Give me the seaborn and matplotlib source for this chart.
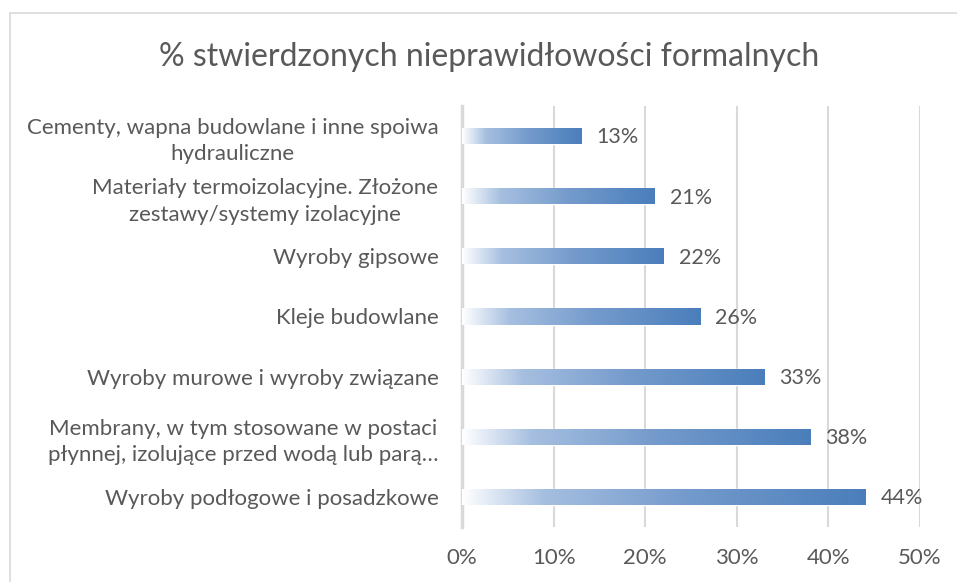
import numpy as np
import pandas as pd
import matplotlib
matplotlib.use("Agg")
import matplotlib.pyplot as plt
import seaborn as sns
from matplotlib.colors import LinearSegmentedColormap
from matplotlib.lines import Line2D

categories = [
    "Cementy, wapna budowlane i inne spoiwa\nhydrauliczne",
    "Materiały termoizolacyjne. Złożone\nzestawy/systemy izolacyjne",
    "Wyroby gipsowe",
    "Kleje budowlane",
    "Wyroby murowe i wyroby związane",
    "Membrany, w tym stosowane w postaci\npłynnej, izolujące przed wodą lub parą…",
    "Wyroby podłogowe i posadzkowe",
]
values = [13, 21, 22, 26, 33, 38, 44]
x_ticks = [0, 10, 20, 30, 40, 50]
x_ticklabels = ["0%", "10%", "20%", "30%", "40%", "50%"]

data = pd.DataFrame({"kategoria": categories, "procent": values})

sns.set_style("white")
plt.rcParams["font.family"] = ["Lato", "DejaVu Sans"]
text_col = "#595959"
grid_col = "#d9d9d9"

fig = plt.figure(figsize=(9.57, 5.82), dpi=100)
ax = fig.add_axes([462 / 957, 1 - 527 / 582, 458 / 957, 421 / 582])

sns.barplot(data=data, x="procent", y="kategoria", orient="h", width=0.27,
            color="#4a7ebb", ax=ax)

# gradient fill - white on the left to blue on the right, per bar
cmap = LinearSegmentedColormap.from_list(
    "grad", [(0, "#ffffff"), (0.2, "#a6bfe0"), (0.55, "#759bcc"), (1, "#4a7ebb")])
grad = np.linspace(0, 1, 256).reshape(1, -1)
for patch in ax.patches:
    x0, y0 = patch.get_x(), patch.get_y()
    w, h = patch.get_width(), patch.get_height()
    patch.set_facecolor("none")
    im = ax.imshow(grad, cmap=cmap, aspect="auto", extent=[x0, x0 + w, y0 + h, y0],
                   zorder=3)
    im.set_clip_path(patch)
    ax.annotate(f"{int(round(w))}%", (x0 + w, y0 + h / 2), xytext=(11, -1),
                textcoords="offset points", va="center", ha="left",
                fontsize=15.5, color=text_col)

ax.set_xlim(0, 50)
ax.set_ylim(6.5, -0.5)
ax.set_xticks(x_ticks)
ax.set_xticklabels(x_ticklabels)
ax.xaxis.grid(True, color=grid_col, lw=1.5)
ax.set_axisbelow(True)
for s in ["top", "right", "bottom"]:
    ax.spines[s].set_visible(False)
ax.spines["left"].set_color(grid_col)
ax.spines["left"].set_linewidth(2.5)
ax.tick_params(axis="x", length=0, pad=15, labelsize=16, labelcolor=text_col)
ax.tick_params(axis="y", length=0, pad=17, labelsize=16, labelcolor=text_col)
for lbl in ax.get_yticklabels():
    lbl.set_multialignment("center")
    lbl.set_linespacing(1.4)
ax.set_xlabel("")
ax.set_ylabel("")

fig.text(489 / 957, 1 - 57 / 582, "% stwierdzonych nieprawidłowości formalnych",
         ha="center", va="center", fontsize=23, color=text_col)

# chart frame (cropped on the right and bottom)
fig.add_artist(Line2D([10 / 957, 10 / 957], [0, 1 - 13 / 582], color=grid_col, lw=1.2))
fig.add_artist(Line2D([10 / 957, 1], [1 - 13 / 582, 1 - 13 / 582], color=grid_col, lw=1.2))

fig.savefig("out.png", dpi=100)
